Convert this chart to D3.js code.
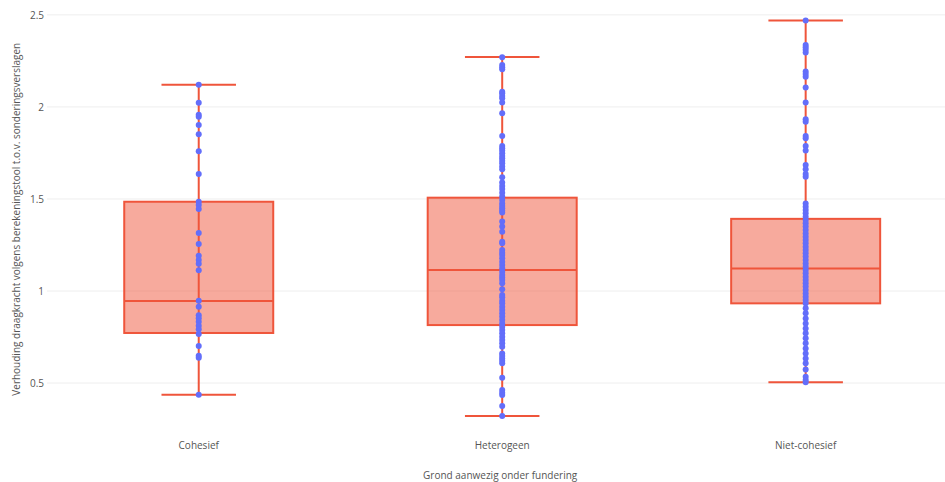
<!DOCTYPE html>
<html>
<head>
<meta charset="utf-8">
<script src="https://cdn.jsdelivr.net/npm/d3@7"></script>
<style>
  body { margin: 0; background: #fff; }
  svg { display: block; font-family: 'Open Sans', sans-serif; }
  .grid line { stroke: #eeeeee; stroke-width: 1; }
  .tick text { fill: #555; }
</style>
</head>
<body>
<svg class="box-chart"></svg>
<script>
let categories = ['Cohesief', 'Heterogeen', 'Niet-cohesief'];

// box statistics
let lowerFence = [0.436, 0.321, 0.505];
let q1 = [0.772, 0.815, 0.933];
let median = [0.946, 1.114, 1.122];
let q3 = [1.485, 1.507, 1.392];
let upperFence = [2.121, 2.271, 2.469];

let cohesiefPoints = [
  2.121, 2.023, 1.957, 1.947, 1.902, 1.852, 1.759, 1.636, 1.485, 1.467, 1.446,
  1.315, 1.255, 1.192, 1.168, 1.148, 1.113, 0.947, 0.915, 0.868, 0.852, 0.833,
  0.811, 0.792, 0.766, 0.701, 0.648, 0.637, 0.436
];

let heterogeenPoints = [
  2.270, 2.228, 2.216, 2.205, 2.083, 2.074, 2.060, 2.047, 2.024, 1.966, 1.842,
  1.788, 1.775, 1.763, 1.748, 1.734, 1.721, 1.708, 1.694, 1.676, 1.661, 1.618,
  1.589, 1.571, 1.554, 1.534, 1.513, 1.495, 1.476, 1.462, 1.449, 1.437, 1.426,
  1.377, 1.350, 1.322, 1.268, 1.259, 1.223, 1.208, 1.196, 1.178, 1.159, 1.141,
  1.123, 1.105, 1.087, 1.074, 1.060, 1.042, 1.009, 0.978, 0.966, 0.947, 0.933,
  0.915, 0.897, 0.879, 0.861, 0.842, 0.824, 0.806, 0.788, 0.770, 0.752, 0.734,
  0.716, 0.697, 0.661, 0.647, 0.634, 0.621, 0.607, 0.529, 0.462, 0.447, 0.435,
  0.375, 0.321
];

let nietCohesiefPoints = [
  2.469, 2.337, 2.324, 2.310, 2.295, 2.192, 2.179, 2.164, 2.105, 2.024, 1.933,
  1.920, 1.842, 1.830, 1.788, 1.763, 1.685, 1.661, 1.636, 1.621, 1.476, 1.458,
  1.440, 1.422, 1.404, 1.386, 1.368, 1.350, 1.332, 1.313, 1.295, 1.277, 1.259,
  1.241, 1.223, 1.205, 1.187, 1.168, 1.150, 1.132, 1.114, 1.096, 1.078, 1.060,
  1.042, 1.024, 1.005, 0.987, 0.969, 0.951, 0.933, 0.906, 0.879, 0.851, 0.824,
  0.797, 0.770, 0.743, 0.716, 0.688, 0.661, 0.634, 0.607, 0.574, 0.534, 0.516,
  0.505
];

let yTicks = [0.5, 1, 1.5, 2, 2.5];
let yTickLabels = ['0.5', '1', '1.5', '2', '2.5'];

let pointsByCategory = [cohesiefPoints, heterogeenPoints, nietCohesiefPoints];

let totalWidth = 945,
  totalHeight = 482;

let margin = {top: 2, left: 47, bottom: 52},
  plotRight = 957.4,
  height = totalHeight - margin.top - margin.bottom;

let boxColor = '#ef553b',
  pointColor = '#636efa';

let svg = d3.select('.box-chart')
  .attr('width', totalWidth)
  .attr('height', totalHeight);

let xScale = d3.scaleBand()
  .domain(categories)
  .range([margin.left, plotRight]);

let yScale = d3.scaleLinear()
  .domain([0.245, 2.57])
  .range([margin.top + height, margin.top]);

// gridlines
svg.append('g')
  .attr('class', 'grid')
  .selectAll('line')
  .data(yTicks)
  .enter()
  .append('line')
  .attr('x1', margin.left)
  .attr('x2', totalWidth)
  .attr('y1', (d) => yScale(d))
  .attr('y2', (d) => yScale(d));

// y axis
let yAxis = svg.append('g')
  .attr('transform', 'translate(' + margin.left + ',0)')
  .call(d3.axisLeft(yScale).tickValues(yTicks).tickSize(0).tickPadding(3)
    .tickFormat((d, i) => yTickLabels[i]));
yAxis.select('.domain').remove();
yAxis.selectAll('text').attr('font-size', 10).attr('font-family', 'Open Sans');

// x axis
let xAxis = svg.append('g')
  .attr('transform', 'translate(0,' + (margin.top + height) + ')')
  .call(d3.axisBottom(xScale).tickSize(0).tickPadding(12));
xAxis.select('.domain').remove();
xAxis.selectAll('text').attr('font-size', 10).attr('font-family', 'Open Sans');

// axis titles
svg.append('text')
  .attr('x', (margin.left + plotRight) / 2 - 2)
  .attr('y', 479)
  .attr('text-anchor', 'middle')
  .attr('font-size', 10)
  .attr('fill', '#555')
  .text('Grond aanwezig onder fundering');

svg.append('text')
  .attr('transform', 'translate(20,' + yScale(1.39) + ') rotate(-90)')
  .attr('text-anchor', 'middle')
  .attr('font-size', 10)
  .attr('fill', '#555')
  .text('Verhouding draagkracht volgens berekeningstool t.o.v. sonderingsverslagen');

let boxWidth = xScale.bandwidth() * 0.491;
let capWidth = boxWidth * 0.5;

let boxes = svg.selectAll('.box-group')
  .data(categories)
  .enter()
  .append('g')
  .attr('class', 'box-group')
  .attr('transform', (d) => 'translate(' + (xScale(d) + xScale.bandwidth() / 2) + ',0)');

// whisker stems
boxes.append('line')
  .attr('x1', 0).attr('x2', 0)
  .attr('y1', (d, i) => yScale(upperFence[i]))
  .attr('y2', (d, i) => yScale(lowerFence[i]))
  .attr('stroke', boxColor)
  .attr('stroke-width', 2);

// whisker caps
['upper', 'lower'].forEach(function (which) {
  boxes.append('line')
    .attr('x1', -capWidth / 2).attr('x2', capWidth / 2)
    .attr('y1', (d, i) => yScale(which === 'upper' ? upperFence[i] : lowerFence[i]))
    .attr('y2', (d, i) => yScale(which === 'upper' ? upperFence[i] : lowerFence[i]))
    .attr('stroke', boxColor)
    .attr('stroke-width', 2);
});

// boxes
boxes.append('rect')
  .attr('x', -boxWidth / 2)
  .attr('width', boxWidth)
  .attr('y', (d, i) => yScale(q3[i]))
  .attr('height', (d, i) => yScale(q1[i]) - yScale(q3[i]))
  .attr('fill', 'rgba(239,85,59,0.5)')
  .attr('stroke', boxColor)
  .attr('stroke-width', 2);

// medians
boxes.append('line')
  .attr('x1', -boxWidth / 2).attr('x2', boxWidth / 2)
  .attr('y1', (d, i) => yScale(median[i]))
  .attr('y2', (d, i) => yScale(median[i]))
  .attr('stroke', boxColor)
  .attr('stroke-width', 2);

// all points on the centre line
boxes.selectAll('.point')
  .data((d, i) => pointsByCategory[i])
  .enter()
  .append('circle')
  .attr('class', 'point')
  .attr('cx', 0)
  .attr('cy', (d) => yScale(d))
  .attr('r', 3)
  .attr('fill', pointColor);
</script>
</body>
</html>
